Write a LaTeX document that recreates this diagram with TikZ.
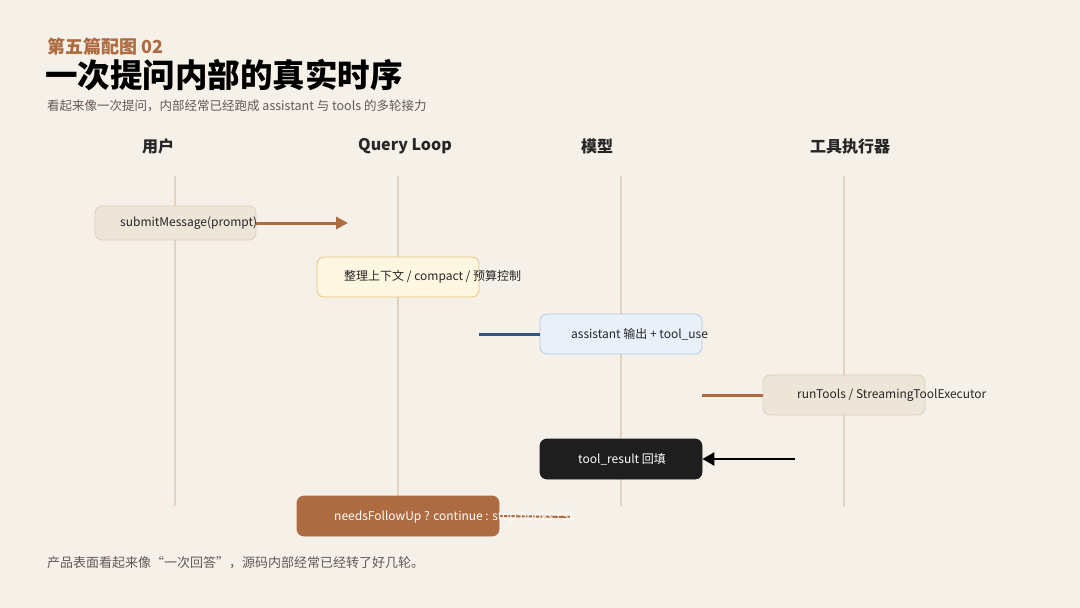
\documentclass[tikz,border=0pt]{standalone}
\usepackage{fontspec}
\setmainfont{Noto Sans CJK SC}
\usepackage{tikz}
\usetikzlibrary{arrows.meta}
\definecolor{bgcream}{HTML}{F5F0E8}
\definecolor{rust}{HTML}{AD6B42}
\definecolor{lifetan}{HTML}{E2D2BF}
\definecolor{greytxt}{HTML}{5F5A55}
\definecolor{sandfill}{HTML}{EEE5D9}
\definecolor{sandline}{HTML}{DCCFBF}
\definecolor{creamfill}{HTML}{FDF6E0}
\definecolor{creamline}{HTML}{E9C77A}
\definecolor{skyfill}{HTML}{E9F0FA}
\definecolor{skyline}{HTML}{B5C9E5}
\definecolor{navy}{HTML}{2E5587}
\definecolor{inkfill}{HTML}{1E1E1E}
\tikzstyle{lifeline}=[draw=lifetan,line width=2pt]
\tikzstyle{lane}=[anchor=center,inner sep=0pt,font=\fontsize{16}{18}\selectfont\bfseries,text=black!85]
\tikzstyle{msgbox}=[rectangle,rounded corners=7pt,minimum width=162pt,minimum height=40pt,inner sep=0pt,line width=0.8pt]
\tikzstyle{msgtext}=[anchor=west,inner sep=0pt,font=\fontsize{12}{14}\selectfont,text=black!85]
\tikzstyle{edge}=[draw,line width=3pt]

\begin{document}
\begin{tikzpicture}[x=1pt,y=-1pt]
        \fill[bgcream] (0,0) rectangle (1080,608);
        \node[anchor=west,inner sep=0pt,text=rust,font=\fontsize{18}{20}\selectfont\bfseries] (kicker) at (47,47) {第五篇配图 02};
        \node[anchor=west,inner sep=0pt,font=\fontsize{32.5}{36}\selectfont\bfseries] (title) at (45,75) {一次提问内部的真实时序};
        \node[anchor=west,inner sep=0pt,text=greytxt,font=\fontsize{12.5}{14}\selectfont] (subtitle) at (47,106) {看起来像一次提问，内部经常已经跑成 assistant 与 tools 的多轮接力};
        \node[lane] (user) at (158,146) {用户};
        \node[lane] (loop) at (405,146) {Query Loop};
        \node[lane] (model) at (597,146) {模型};
        \node[lane] (tools) at (850,146) {工具执行器};
        \foreach \x in {175,398,621,844}
          \draw[lifeline] (\x,176) -- (\x,506);
        \node[msgbox,fill=sandfill,draw=sandline,minimum width=161pt,minimum height=34pt] (submit) at (175.5,223) {};
        \node[msgtext] (submittxt) at (120,223) {submitMessage(prompt)};
        \node[msgbox,fill=creamfill,draw=creamline] (ctx) at (398,277) {};
        \node[msgtext] (ctxtxt) at (344,277) {整理上下文 / compact / 预算控制};
        \node[msgbox,fill=skyfill,draw=skyline] (assist) at (621,334) {};
        \node[msgtext] (assisttxt) at (571,334) {assistant 输出 + tool\_use};
        \node[msgbox,fill=sandfill,draw=sandline] (run) at (844,395) {};
        \node[msgtext] (runtxt) at (797,395) {runTools / StreamingToolExecutor};
        \node[msgbox,fill=inkfill,draw=inkfill] (result) at (621,459) {};
        \node[msgtext,text=white] (resulttxt) at (578,459) {tool\_result 回填};
        \node[msgbox,fill=rust,draw=rust,minimum width=202pt] (follow) at (398,516) {};
        \coordinate (sendtip) at (348,223);
        \coordinate (backfrom) at (795,459);
        \coordinate (stopend) at (570,517);
        \draw[edge,draw=rust,-{Triangle[length=12pt,width=12pt]}] (submit.east) -- (sendtip);
        \draw[edge,draw=navy] (ctx.east |- assist.west) -- (assist.west);
        \draw[edge,draw=rust] (assist.east |- run.west) -- (run.west);
        \draw[edge,draw=black,line width=2.5pt,-{Triangle[length=12pt,width=13pt]}] (backfrom) -- (result.east);
        \draw[draw=rust,line width=2pt] (follow.east) -- (stopend);
        \node[msgtext,text=white!96!bgcream] (followtxt) at (334,517) {needsFollowUp ? continue : stop hooks / st};
        \node[anchor=west,inner sep=0pt,text=greytxt,font=\fontsize{13}{15}\selectfont] (footer) at (47,563) {产品表面看起来像“一次回答”，源码内部经常已经转了好几轮。};
\end{tikzpicture}
\end{document}
